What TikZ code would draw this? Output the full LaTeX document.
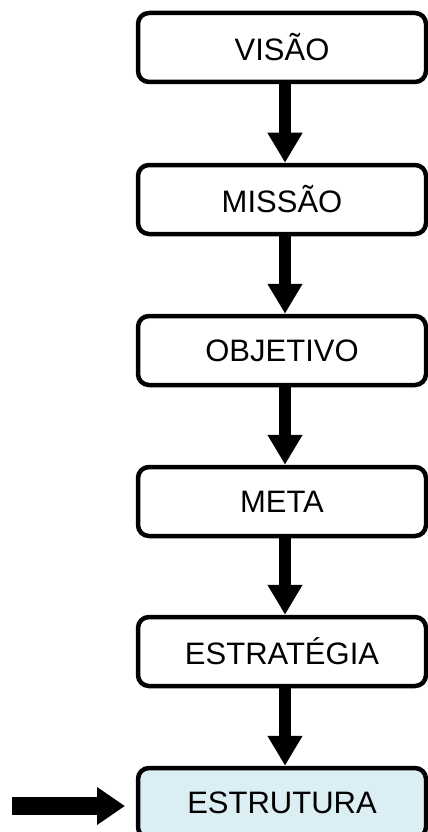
\documentclass[tikz,border=0pt]{standalone}
\usepackage{fontspec}
\setmainfont{Liberation Sans}
\usetikzlibrary{arrows.meta}
\definecolor{paleblue}{RGB}{219,238,244}
\begin{document}
\begin{tikzpicture}[x=1pt,y=-1pt,
  box/.style={draw, line width=4.5pt, rounded corners=11pt, fill=white,
    minimum width=288pt, minimum height=69pt, inner sep=0pt,
    font=\fontsize{31}{37}\selectfont},
  flow/.style={-{Triangle[length=30pt,width=33pt]}, line width=12pt},
  bigflow/.style={-{Triangle[length=28pt,width=36pt]}, line width=18pt}]
\useasboundingbox (0,0) rectangle (428,832);

% the chain of levels, top to bottom
\node[box] (visao)  at (282,47.5)  {VISÃO};
\node[box] (missao) at (282,199.5) {MISSÃO};
\node[box] (obj)    at (282,350.5) {OBJETIVO};
\node[box] (meta)   at (282,501.5) {META};
\node[box] (estrat) at (282,651.5) {ESTRATÉGIA};
\node[box, fill=paleblue, minimum height=70pt] (estrut) at (282,803) {ESTRUTURA};

% downward connectors
\foreach \a/\b in {visao/missao, missao/obj, obj/meta, meta/estrat, estrat/estrut}
  \draw[flow] ([xshift=3pt]\a.south) -- ([xshift=3pt]\b.north);

% pointer into the last level
\coordinate (src) at (12,806);
\coordinate (tip) at (125,806);
\draw[bigflow] (src) -- (tip);
\end{tikzpicture}
\end{document}
